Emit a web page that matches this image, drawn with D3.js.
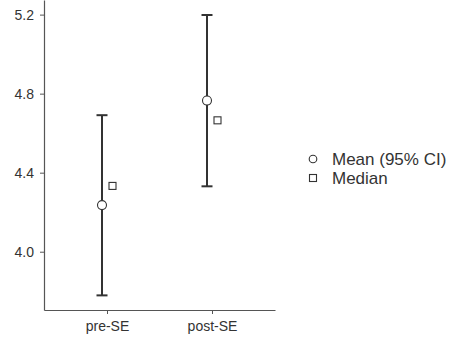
<!DOCTYPE html>
<html>
<head>
<meta charset="utf-8">
<script src="https://cdn.jsdelivr.net/npm/d3@7"></script>
<style>
  body { margin: 0; background: #fff; }
  svg { display: block; font-family: Arial, "Liberation Sans", sans-serif; }
</style>
</head>
<body>
<div id="chart"></div>
<script>
// # Data.
const categories = ['pre-SE', 'post-SE']
const means   = [4.236, 4.765]
const lowerCI = [3.779, 4.331]
const upperCI = [4.691, 5.198]
const medians = [4.333, 4.665]
const yTicks  = [4.0, 4.4, 4.8, 5.2]
const legendLabels = ['Mean (95% CI)', 'Median']

const width = 456, height = 341
const ink = '#333'

let svg = d3.select('#chart')
    .append('svg')
    .attr('width', width)
    .attr('height', height)

let x = d3.scalePoint()
    .domain(categories)
    .range([44, 275])
    .padding(0.6)

let y = d3.scaleLinear()
    .domain([3.705, 5.274])
    .range([310, 0])

// # Axes.
let yAxis = svg.append('g')
    .attr('transform', 'translate(44,0)')
    .call(d3.axisLeft(y).tickValues(yTicks).tickFormat(d3.format('.1f'))
        .tickSize(4).tickSizeOuter(0).tickPadding(6))
let xAxis = svg.append('g')
    .attr('transform', 'translate(0,310)')
    .call(d3.axisBottom(x).tickSize(4).tickSizeOuter(0).tickPadding(7))
;[xAxis, yAxis].forEach(a => {
    a.select('.domain').attr('stroke', '#555').attr('stroke-width', 1.2)
    a.selectAll('.tick line').attr('stroke', '#555')
    a.selectAll('text').attr('fill', ink).attr('font-family', 'Arial, "Liberation Sans", sans-serif')
})
yAxis.selectAll('text').attr('font-size', 14)
xAxis.selectAll('text').attr('font-size', 14)

let rows = categories.map((c, i) => ({
    c, mean: means[i], lo: lowerCI[i], hi: upperCI[i], med: medians[i]
}))

// # Error bars, offset left of the tick.
let barOff = -5, medOff = 5.5, cap = 5.5
let g = svg.append('g')
let bars = g.selectAll('g.bar').data(rows).enter().append('g')
bars.append('line')
    .attr('x1', d => x(d.c) + barOff).attr('x2', d => x(d.c) + barOff)
    .attr('y1', d => y(d.lo)).attr('y2', d => y(d.hi))
    .attr('stroke', ink).attr('stroke-width', 2)
bars.selectAll('line.cap')
    .data(d => [[d.c, d.lo], [d.c, d.hi]])
    .enter().append('line')
    .attr('x1', d => x(d[0]) + barOff - cap).attr('x2', d => x(d[0]) + barOff + cap)
    .attr('y1', d => y(d[1])).attr('y2', d => y(d[1]))
    .attr('stroke', ink).attr('stroke-width', 2)
bars.append('circle')
    .attr('cx', d => x(d.c) + barOff).attr('cy', d => y(d.mean))
    .attr('r', 4.5)
    .attr('fill', '#fff').attr('stroke', ink).attr('stroke-width', 1.1)
bars.append('rect')
    .attr('x', d => x(d.c) + medOff - 3.5).attr('y', d => y(d.med) - 3.5)
    .attr('width', 7).attr('height', 7)
    .attr('fill', '#fff').attr('stroke', ink).attr('stroke-width', 1.1)

// # Legend.
let legend = svg.append('g').attr('transform', 'translate(313,159)')
let items = legend.selectAll('g').data(legendLabels).enter().append('g')
    .attr('transform', (d, i) => `translate(0,${i * 19})`)
items.filter((d, i) => i == 0).append('circle')
    .attr('r', 3.8).attr('fill', '#fff').attr('stroke', ink).attr('stroke-width', 1.1)
items.filter((d, i) => i == 1).append('rect')
    .attr('x', -3.5).attr('y', -3.5).attr('width', 7).attr('height', 7)
    .attr('fill', '#fff').attr('stroke', ink).attr('stroke-width', 1.1)
items.append('text')
    .attr('x', 19).attr('dy', '0.35em')
    .attr('font-size', 17).attr('fill', ink)
    .text(d => d)
</script>
</body>
</html>
